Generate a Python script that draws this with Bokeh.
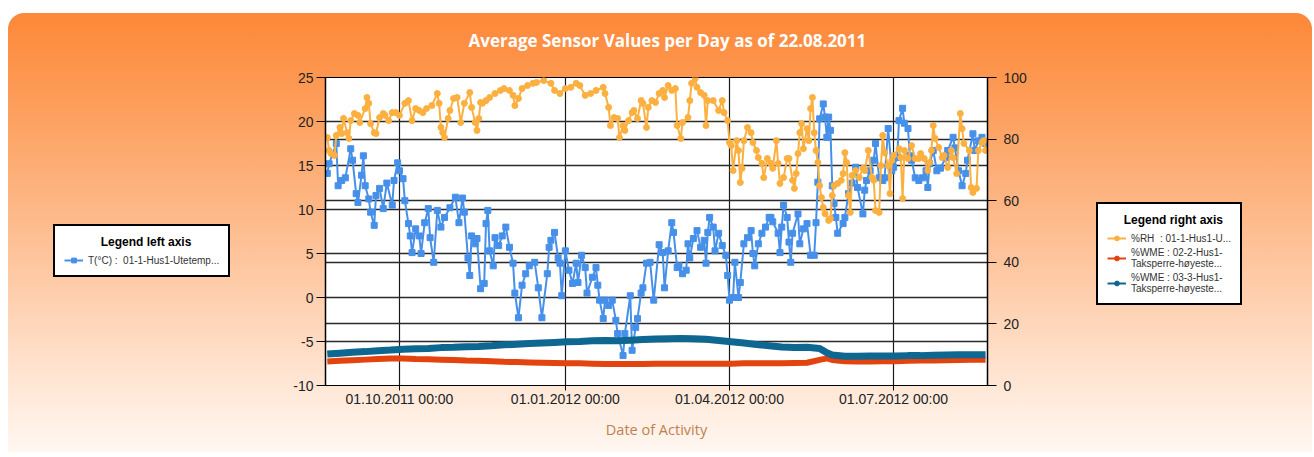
from datetime import datetime, timedelta
from bokeh.plotting import figure
from bokeh.layouts import row
from bokeh.models import (Range1d, LinearAxis, FixedTicker, DatetimeTickFormatter,
                          Legend, LegendItem, Grid, ColumnDataSource)
from bokeh.embed import file_html
from bokeh.resources import INLINE

# ---------------- data ----------------
start_date = datetime(2011, 8, 22)
x_start = datetime(2011, 8, 21)
x_end = datetime(2012, 8, 22, 2)
date_ticks = [datetime(2011, 10, 1), datetime(2012, 1, 1), datetime(2012, 4, 1), datetime(2012, 7, 1)]
left_ticks = [-10, -5, 0, 5, 10, 15, 20, 25]
right_ticks = [0, 20, 40, 60, 80, 100]

temp_days = [0, 1, 5, 6, 8, 10, 13, 14, 16, 17, 19, 20, 21, 23, 24, 26, 27, 29, 31, 33,
             36, 37, 39, 40, 42, 43, 45, 46, 47, 49, 51, 52, 54, 56, 57, 59, 61, 63, 65, 68,
             71, 73, 75, 76, 78, 79, 80, 82, 83, 85, 87, 88, 89, 90, 92, 93, 95, 97, 99, 101,
             103, 104, 106, 108, 110, 112, 115, 117, 119, 122, 123, 124, 126, 128, 129, 130, 132, 134, 136, 138,
             139, 141, 143, 144, 147, 149, 150, 151, 153, 154, 156, 158, 160, 161, 164, 165, 168, 169, 171, 172,
             174, 175, 177, 179, 181, 184, 186, 187, 189, 191, 192, 194, 195, 197, 199, 200, 201, 203, 205, 207,
             209, 210, 211, 212, 214, 215, 217, 219, 221, 222, 223, 225, 226, 228, 229, 231, 233, 235, 236, 237,
             239, 241, 243, 245, 246, 247, 250, 251, 252, 253, 255, 256, 257, 258, 261, 262, 264, 266, 268, 270,
             271, 272, 273, 275, 276, 277, 278, 279, 280, 281, 282, 283, 286, 287, 289, 291, 293, 294, 297, 298,
             299, 301, 303, 304, 306, 308, 309, 311, 313, 314, 316, 317, 319, 320, 322, 323, 324, 326, 328, 330,
             332, 333, 334, 336, 338, 340, 343, 344, 347, 348, 350, 352, 354, 355, 358, 359, 361, 363, 365]
temp_vals = [14.1, 15.2, 17.5, 12.7, 13.3, 13.6, 16.9, 15.6, 11.8, 10.8, 13.9, 16.1, 12.7, 11.2, 9.7, 8.2, 11.6, 12.4, 10.1, 13.0,
             10.5, 13.3, 15.3, 14.4, 13.5, 11.0, 8.4, 7.0, 5.1, 7.8, 7.0, 5.0, 8.5, 10.1, 6.8, 4.0, 9.9, 8.0, 9.1, 10.2,
             11.4, 8.5, 11.3, 9.7, 4.5, 2.5, 7.0, 6.1, 6.7, 1.0, 1.6, 8.4, 9.9, 5.3, 3.6, 6.8, 5.9, 7.0, 8.0, 5.7,
             3.9, 0.5, -2.3, 1.4, 2.7, 3.6, 4.0, 1.1, -2.3, 2.7, 5.7, 6.5, 7.4, 4.5, 3.9, 0.2, 5.3, 3.1, 1.6, 3.9,
             1.7, 4.8, 3.4, 0.5, 2.3, 3.4, 1.4, -0.3, -2.4, -0.3, -0.9, -0.3, -2.6, -4.1, -6.6, -4.1, 0.2, -6.0, -3.4, -2.4,
             0.5, 1.1, 3.9, 4.0, -0.3, 6.0, 5.1, 1.1, 5.3, 8.5, 7.4, 3.4, 3.6, 2.7, 3.1, 6.1, 4.5, 6.7, 7.6, 5.7,
             6.5, 3.9, 7.4, 9.1, 8.0, 5.3, 7.3, 5.9, 4.8, 2.5, -0.3, 0.0, 4.0, 0.0, 1.7, 6.1, 6.8, 7.6, 5.0, 3.6,
             6.1, 7.3, 8.0, 9.1, 9.1, 8.6, 7.3, 5.1, 8.0, 10.5, 9.1, 6.3, 4.0, 7.3, 9.5, 6.1, 7.8, 8.4, 4.8, 4.8,
             8.5, 13.1, 20.3, 22.0, 20.5, 18.2, 20.5, 19.0, 12.7, 10.7, 9.1, 7.3, 8.4, 9.1, 11.8, 13.0, 14.8, 12.5, 9.5, 12.2,
             13.3, 14.4, 15.6, 17.5, 13.6, 13.3, 13.6, 19.2, 14.4, 14.8, 15.9, 20.1, 21.5, 19.8, 19.2, 16.1, 15.6, 13.6, 13.3, 13.6,
             14.4, 12.5, 15.2, 16.7, 14.4, 14.7, 15.9, 16.7, 18.2, 17.0, 14.4, 12.7, 14.1, 15.6, 18.6, 16.7, 17.8, 18.2, 17.5]

rh_days = [0, 1, 2, 4, 5, 7, 8, 9, 11, 12, 13, 15, 17, 18, 21, 22, 23, 24, 26, 27,
           29, 31, 32, 34, 36, 38, 40, 43, 45, 47, 49, 51, 53, 55, 58, 61, 62, 63, 64, 65,
           67, 68, 70, 72, 74, 76, 79, 80, 82, 83, 84, 85, 86, 88, 90, 93, 96, 98, 101, 103,
           104, 106, 108, 111, 114, 116, 120, 124, 126, 129, 132, 135, 138, 140, 143, 146, 149, 153, 154, 156,
           157, 159, 161, 162, 164, 165, 167, 169, 170, 172, 174, 175, 177, 178, 180, 182, 184, 186, 187, 189,
           191, 193, 194, 196, 197, 200, 201, 202, 204, 205, 207, 209, 210, 211, 214, 217, 219, 220, 222, 223,
           224, 225, 227, 228, 229, 230, 231, 233, 235, 236, 238, 239, 241, 242, 244, 246, 247, 249, 250, 251,
           253, 255, 256, 258, 259, 260, 261, 262, 263, 264, 266, 267, 268, 269, 270, 271, 272, 273, 274, 275,
           276, 278, 279, 280, 281, 283, 285, 286, 287, 288, 289, 290, 291, 293, 295, 297, 298, 300, 302, 303,
           304, 306, 307, 308, 309, 311, 312, 313, 314, 317, 318, 319, 320, 322, 324, 326, 328, 329, 331, 333,
           334, 335, 336, 337, 339, 341, 342, 344, 346, 347, 349, 351, 352, 353, 356, 357, 358, 360, 361, 363,
           364, 365]
rh_vals = [80.5, 76.3, 75.3, 74.7, 81.2, 83.8, 81.8, 86.7, 82.1, 80.2, 86.0, 88.3, 87.7, 85.4, 89.9, 93.5, 91.6, 85.0, 82.1, 81.8,
           87.0, 88.3, 87.7, 86.0, 88.6, 88.6, 87.7, 91.6, 92.5, 86.0, 89.9, 89.3, 88.6, 89.9, 90.9, 94.8, 91.6, 83.8, 82.1, 80.5,
           86.7, 89.3, 93.2, 93.5, 85.4, 91.6, 95.1, 90.3, 85.4, 82.8, 86.7, 91.9, 91.6, 92.5, 93.5, 94.8, 95.8, 96.4, 95.8, 94.2,
           90.9, 93.2, 96.4, 97.4, 98.1, 98.4, 99.0, 98.1, 95.8, 94.8, 96.4, 96.8, 98.1, 97.4, 94.2, 94.8, 95.8, 96.8, 94.8, 90.3,
           84.4, 87.0, 86.7, 80.5, 84.4, 82.8, 86.0, 88.6, 89.3, 86.7, 92.5, 91.6, 83.8, 90.3, 92.5, 91.9, 94.8, 95.8, 93.5, 97.4,
           95.8, 96.4, 84.4, 80.2, 85.4, 87.0, 92.5, 98.1, 99.7, 96.8, 95.1, 94.2, 84.4, 92.5, 92.5, 89.3, 92.5, 88.6, 86.0, 78.9,
           77.9, 69.8, 79.5, 76.3, 65.9, 70.5, 79.5, 83.8, 82.1, 78.9, 76.3, 74.0, 72.1, 67.5, 73.7, 72.1, 70.5, 79.5, 72.1, 65.6,
           67.5, 73.7, 73.7, 66.6, 64.0, 68.8, 75.3, 82.1, 85.0, 76.9, 83.4, 79.5, 89.9, 93.5, 82.1, 76.3, 72.4, 64.9, 61.0, 57.8,
           55.8, 53.6, 54.2, 61.7, 64.9, 65.6, 66.6, 68.8, 75.6, 72.4, 61.7, 56.2, 68.2, 69.8, 67.5, 70.5, 69.8, 76.3, 67.5, 66.6,
           56.8, 56.2, 71.4, 81.2, 75.6, 71.4, 62.3, 73.0, 74.7, 76.9, 74.0, 60.7, 76.3, 73.7, 77.9, 73.7, 73.7, 75.3, 73.7, 69.8,
           72.4, 76.3, 84.4, 80.2, 77.3, 74.0, 74.7, 70.8, 76.3, 74.0, 68.8, 88.3, 83.4, 78.6, 76.3, 64.3, 62.7, 64.0, 76.3, 78.9,
           79.5, 76.3]

wme_days = [0, 7, 14, 21, 28, 35, 42, 49, 56, 63, 70, 77, 84, 91, 98, 105, 112, 119, 126, 133,
            140, 147, 154, 161, 168, 175, 182, 189, 196, 203, 210, 217, 224, 231, 238, 245, 252, 259, 266, 273,
            277, 280, 287, 294, 301, 308, 315, 322, 329, 336, 343, 350, 357, 365]
wme2_vals = [7.8, 8.0, 8.2, 8.4, 8.6, 8.8, 8.8, 8.6, 8.5, 8.4, 8.3, 8.1, 8.0, 7.9, 7.7, 7.6, 7.5, 7.4, 7.3, 7.2,
             7.2, 7.1, 7.0, 7.0, 7.0, 7.0, 7.1, 7.1, 7.1, 7.1, 7.1, 7.1, 7.1, 7.2, 7.2, 7.2, 7.2, 7.3, 7.4, 8.3,
             8.8, 8.3, 7.9, 7.8, 7.8, 7.9, 7.9, 8.0, 8.1, 8.1, 8.2, 8.3, 8.4, 8.4]
wme3_vals = [10.2, 10.5, 10.8, 11.0, 11.3, 11.5, 11.8, 11.9, 12.0, 12.3, 12.4, 12.6, 12.7, 12.9, 13.2, 13.4, 13.6, 13.8, 14.0, 14.2,
             14.3, 14.5, 14.6, 14.5, 14.7, 14.9, 15.1, 15.2, 15.3, 15.2, 15.0, 14.6, 14.2, 13.8, 13.3, 12.9, 12.5, 12.3, 12.4, 12.0,
             10.6, 9.9, 9.5, 9.5, 9.6, 9.6, 9.6, 9.7, 9.7, 9.8, 9.9, 10.0, 10.0, 10.0]

title_text = "Average Sensor Values per Day as of 22.08.2011"
x_label = "Date of Activity"
left_legend_title = "Legend left axis"
right_legend_title = "Legend right axis"
temp_label = "T(\u00b0C) :  01-1-Hus1-Utetemp..."
rh_label = "%RH  : 01-1-Hus1-U..."
wme2_label = "%WME : 02-2-Hus1-\nTaksperre-h\u00f8yeste..."
wme3_label = "%WME : 03-3-Hus1-\nTaksperre-h\u00f8yeste..."

# ---------------- styling ----------------
C_BLUE = "#4690ea"
C_ORANGE = "#fbb040"
C_RED = "#e2430f"
C_TEAL = "#0d6790"
FONT = "Liberation Sans"
NB = "\u00a0"


def to_dates(days):
    return [start_date + timedelta(days=d) for d in days]


def to_ms(dt):
    return (dt - datetime(1970, 1, 1)).total_seconds() * 1000.0


src_t = ColumnDataSource(dict(x=to_dates(temp_days), y=temp_vals))
src_rh = ColumnDataSource(dict(x=to_dates(rh_days), y=rh_vals))
src_w = ColumnDataSource(dict(x=to_dates(wme_days), w2=wme2_vals, w3=wme3_vals))

p = figure(width=792, height=452, x_axis_type="datetime",
           x_range=(x_start, x_end), y_range=(-10, 25),
           output_backend="svg", toolbar_location=None,
           min_border_left=65, min_border_right=65,
           min_border_top=77, min_border_bottom=67)
p.extra_y_ranges = {"right": Range1d(0, 100)}

p.border_fill_alpha = 0
p.background_fill_color = "white"
p.outline_line_color = "black"
p.outline_line_width = 1

# title
p.title.text = title_text
p.title.align = "left"
p.title.offset = 143
p.title.text_color = "white"
p.title.text_font = "Open Sans"
p.title.text_font_size = "17px"
p.title.text_font_style = "bold"
p.title.standoff = 52

# x axis
xa = p.xaxis[0]
xa.ticker = FixedTicker(ticks=[to_ms(d) for d in date_ticks])
fmt = "%d.%m.%Y %H:%M"
xa.formatter = DatetimeTickFormatter(milliseconds=fmt, seconds=fmt, minsec=fmt, minutes=fmt,
                                     hourmin=fmt, hours=fmt, days=fmt, months=fmt, years=fmt)
xa.axis_label = x_label
xa.axis_label_text_font = "Open Sans"
xa.axis_label_text_font_size = "14.5px"
xa.axis_label_text_font_style = "normal"
xa.axis_label_text_color = "#c0804f"
xa.axis_label_standoff = 10
xa.major_label_text_font = FONT
xa.major_label_text_font_size = "14px"
xa.major_label_text_color = "#222222"
xa.major_label_standoff = 0
xa.major_tick_out = 5
xa.major_tick_in = 0
xa.minor_tick_out = 0
xa.minor_tick_in = 0
xa.axis_line_color = "black"
xa.major_tick_line_color = "black"

# left axis
ya = p.yaxis[0]
ya.ticker = FixedTicker(ticks=left_ticks)
ya.major_label_overrides = {t: str(t) for t in left_ticks}
ya.major_label_text_font = FONT
ya.major_label_text_font_size = "14px"
ya.major_label_text_color = "#222222"
ya.major_tick_out = 9
ya.major_tick_in = 0
ya.minor_tick_out = 0
ya.minor_tick_in = 0
ya.major_label_standoff = 3
ya.axis_line_color = "black"
ya.axis_line_width = 1.5

# right axis
ra = LinearAxis(y_range_name="right", ticker=FixedTicker(ticks=right_ticks))
ra.major_label_text_font = FONT
ra.major_label_text_font_size = "14px"
ra.major_label_text_color = "#222222"
ra.major_tick_out = 9
ra.major_tick_in = 0
ra.minor_tick_out = 0
ra.minor_tick_in = 0
ra.major_label_standoff = 7
ra.axis_line_color = "black"
ra.axis_line_width = 1.5
p.add_layout(ra, "right")

# grids
p.xgrid.grid_line_color = "#1a1a1a"
p.xgrid.grid_line_width = 1.2
p.ygrid.grid_line_color = "#2a2a2a"
p.ygrid.grid_line_width = 1.5
rgrid = Grid(dimension=1, ticker=ra.ticker, y_range_name="right",
             grid_line_color="#2a2a2a", grid_line_width=1.5)
p.add_layout(rgrid)

# series
p.line("x", "y", source=src_t, color=C_BLUE, line_width=2)
p.scatter("x", "y", source=src_t, marker="square", size=6, color=C_BLUE)
p.line("x", "y", source=src_rh, color=C_ORANGE, line_width=2, y_range_name="right")
p.scatter("x", "y", source=src_rh, marker="circle", size=6, color=C_ORANGE, y_range_name="right")
p.line("x", "w2", source=src_w, color=C_RED, line_width=6, y_range_name="right")
p.line("x", "w3", source=src_w, color=C_TEAL, line_width=7, y_range_name="right")


def legend_panel(width, items, loc, title):
    f = figure(width=width, height=452, x_range=(0, 1), y_range=(0, 1),
               output_backend="svg", toolbar_location=None,
               x_axis_location=None, y_axis_location=None, min_border=0)
    f.grid.visible = False
    f.outline_line_color = None
    f.border_fill_alpha = 0
    f.background_fill_alpha = 0
    dummy = ColumnDataSource(dict(x=[float("nan")], y=[float("nan")]))
    legend_items = []
    for label, color, marker, msize in items:
        gl = f.line("x", "y", source=dummy, color=color, line_width=2)
        gp = f.scatter("x", "y", source=dummy, marker=marker, size=msize, color=color)
        legend_items.append(LegendItem(label=label, renderers=[gl, gp]))
    lg = Legend(items=legend_items, location=loc, title=title)
    lg.title_text_font = FONT
    lg.title_text_font_style = "bold"
    lg.title_text_font_size = "12px"
    lg.title_text_color = "black"
    lg.title_standoff = 5
    lg.label_text_font = FONT
    lg.label_text_font_size = "10px"
    lg.label_text_color = "#333333"
    lg.label_text_line_height = 1.35
    lg.glyph_width = 19
    lg.glyph_height = 12
    lg.label_standoff = 5
    lg.label_height = 12
    lg.padding = 9
    lg.spacing = 3
    lg.margin = 0
    lg.border_line_color = "black"
    lg.border_line_alpha = 1.0
    lg.border_line_width = 2.5
    lg.background_fill_color = "white"
    lg.background_fill_alpha = 1
    f.add_layout(lg)
    return f


left_fig = legend_panel(260, [(temp_label, C_BLUE, "square", 5)], (53, 108),
                        NB * 11 + left_legend_title)
right_fig = legend_panel(260, [(rh_label, C_ORANGE, "circle", 5),
                               (wme2_label, C_RED, "circle", 4),
                               (wme3_label, C_TEAL, "circle", 4)], (44, 80),
                         NB * 5 + right_legend_title)

layout = row(left_fig, p, right_fig)
layout.styles = {
    "background": "linear-gradient(to bottom, #fd893a 0%, #fd893a 4%, #fd9a55 20%, #fdb582 44%, #fed2b3 68%, #ffeadb 88%, #fff7f1 100%)",
    "clip-path": "inset(13px 0px 0px 8px round 16px 16px 3px 3px)",
}

open("out.html", "w").write(file_html(layout, INLINE))
